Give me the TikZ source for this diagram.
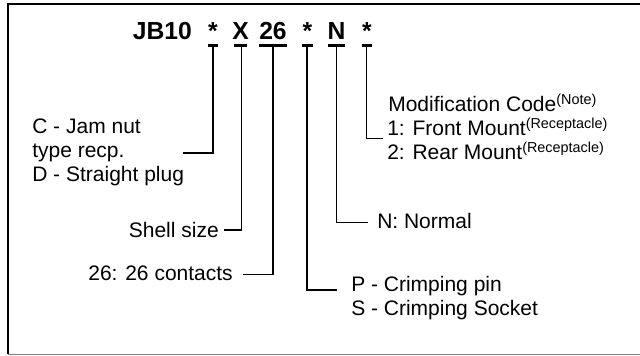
\documentclass[tikz,border=0pt]{standalone}
\usepackage{fontspec}
\setmainfont{Liberation Sans}
\newcommand{\supnote}[1]{\raisebox{5pt}{\fontsize{10.8pt}{12pt}\selectfont #1}}
\begin{document}
\begin{tikzpicture}[x=0.75pt,y=-0.75pt,
  lbl/.style={font=\fontsize{15.75pt}{16.5pt}\selectfont, inner sep=0pt},
  code/.style={font=\fontsize{18.5pt}{20pt}\selectfont\bfseries, inner sep=0pt, anchor=base},
  uline/.style={line width=1.8pt},
  lead/.style={line width=1.1pt}]
\useasboundingbox (0,0) rectangle (640,355);
% frame
\draw[line width=1.7pt] (8,354) -- (8,4.3) -- (640,4.3);
\draw[gray, line width=0.8pt] (8,354.2) -- (640,354.2);
% code tokens
\node[code] (jb) at (162.4,39.5) {JB10};
\node[code] (t1) at (213,39.5) {*};
\node[code] (t2) at (240.5,39.5) {X};
\node[code] (t3) at (273,39.5) {26};
\node[code] (t4) at (307.5,39.5) {*};
\node[code] (t5) at (336.5,39.5) {N};
\node[code] (t6) at (367,39.5) {*};
% underline coordinates
\coordinate (a1) at (208,45.5); \coordinate (b1) at (218,45.5);
\coordinate (a2) at (234,45.5); \coordinate (b2) at (247,45.5);
\coordinate (a3) at (259,45.5); \coordinate (b3) at (287,45.5);
\coordinate (a4) at (302,45.5); \coordinate (b4) at (313,45.5);
\coordinate (a5) at (328,45.5); \coordinate (b5) at (345,45.5);
\coordinate (a6) at (362,45.5); \coordinate (b6) at (372,45.5);
\foreach \i in {1,...,6} { \draw[uline] (a\i) -- (b\i); }
% leader start points
\coordinate (u1) at (213,45.5);
\coordinate (u2) at (241.5,45.5);
\coordinate (u3) at (273,45.5);
\coordinate (u4) at (307,45.5);
\coordinate (u5) at (336.7,45.5);
\coordinate (u6) at (366.5,45.5);
% leader end points
\coordinate (e1) at (183,153);
\coordinate (e2) at (224,230);
\coordinate (e3) at (243,274.3);
\coordinate (e4) at (337,290);
\coordinate (e5) at (368,222.3);
\coordinate (e6) at (383,138.3);
\foreach \i in {1,...,6} { \draw[lead] (u\i) |- (e\i); }
% labels
\node[lbl, anchor=base west] (c1) at (32,133) {C - Jam nut};
\node[lbl, anchor=base west] (c2) at (32,157) {type recp.};
\node[lbl, anchor=base west] (c3) at (32,181) {D - Straight plug};
\node[lbl, anchor=base east] (sh) at (219,237) {Shell size};
\node[lbl, anchor=base east] (ct) at (233,280) {26: 26 contacts};
\node[lbl, anchor=base west] (nn) at (377,228) {N: Normal};
\node[lbl, anchor=base west] (p1) at (351,291) {P - Crimping pin};
\node[lbl, anchor=base west] (p2) at (351,315) {S - Crimping Socket};
\node[lbl, anchor=base west] (m1) at (388,111) {Modification Code\supnote{(Note)}};
\node[lbl, anchor=base west] (m2) at (387,135) {1: Front Mount\supnote{(Receptacle)}};
\node[lbl, anchor=base west] (m3) at (387,159) {2: Rear Mount\supnote{(Receptacle)}};
\end{tikzpicture}
\end{document}
